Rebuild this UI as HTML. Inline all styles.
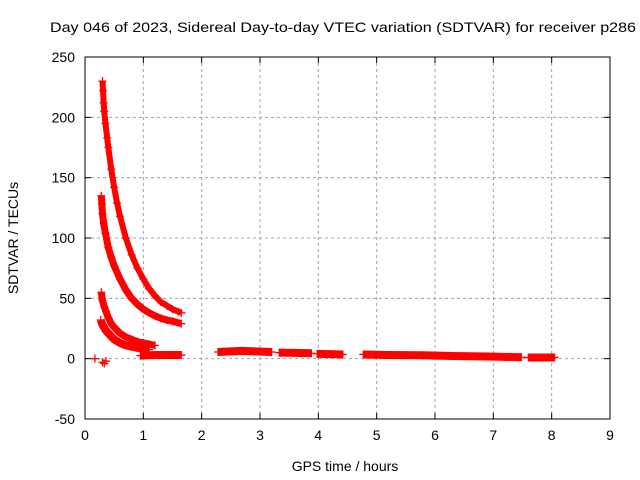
<!DOCTYPE html>
<html><head><meta charset="utf-8"><style>
body{margin:0;background:#fff}
svg{display:block;font-family:"Liberation Sans",sans-serif}
</style></head><body>
<svg id="chart" width="640" height="480" viewBox="0 0 640 480">
<rect width="640" height="480" fill="#fff"/>
<text x="50" y="32" font-size="14" textLength="586" lengthAdjust="spacingAndGlyphs">Day 046 of 2023, Sidereal Day-to-day VTEC variation (SDTVAR) for receiver p286</text>
<g id="grid"></g>
<g id="axes"></g>
<g id="series"></g>
<text x="345" y="471" font-size="14" text-anchor="middle">GPS time / hours</text>
<text transform="translate(18,238) rotate(-90)" font-size="14" text-anchor="middle">SDTVAR / TECUs</text>
</svg>
<script>
const xTicks=[0,1,2,3,4,5,6,7,8,9];
const yTicks=[-50,0,50,100,150,200,250];
const curveAx=[0.3,0.31,0.32,0.33,0.35,0.38,0.4,0.45,0.5,0.55,0.6,0.7,0.8,0.9,1.0,1.1,1.2,1.3,1.4,1.5,1.6,1.65];
const curveAy=[230,222,212,205,195,183,175,157,142,129,118,100,86,75,66,58,52,47,44,41,39,38];
const curveBx=[0.28,0.29,0.3,0.32,0.35,0.4,0.45,0.5,0.6,0.7,0.8,0.9,1.0,1.1,1.2,1.3,1.4,1.5,1.65];
const curveBy=[135,128,120,112,104,92,84,77,66,57,50,45,41,38,35.5,33.5,32,31,29];
const curveCx=[0.28,0.3,0.33,0.36,0.4,0.45,0.5,0.6,0.7,0.8,0.9,1.0,1.1,1.2];
const curveCy=[55,48,43,39,34,29,26,21,18,16,14,13,12,11];
const curveDx=[0.27,0.3,0.35,0.4,0.5,0.6,0.7,0.8,0.9,1.0,1.1];
const curveDy=[32,28,24,21,16,13,11,10,9,8,7.5];
const flatX=[[0.95,1.2,1.45,1.65],[2.28,2.5,2.7,2.9,3.2],[3.33,3.6,3.88],[3.98,4.2,4.42],[4.77,5.2,5.8,6.3,6.9,7.48],[7.6,7.8,8.05]];
const flatY=[[2.5,3,3,3],[5.5,6,6.5,6,5.5],[5,4.8,4.5],[4,3.8,3.5],[3.5,3,2.8,2.2,1.8,1.2],[1,1,1]];
const loneX=[0.17,0.3,0.33,0.36];
const loneY=[0,-3,-4,-2];

const L=85,R=610,T=57,B=419;
const sx=v=>L+(v-0)/9*(R-L);
const sy=v=>B-(v+50)/300*(B-T);
const NS='http://www.w3.org/2000/svg';
function mk(tag,attrs,parent){const e=document.createElementNS(NS,tag);for(const k in attrs)e.setAttribute(k,attrs[k]);parent.appendChild(e);return e;}
const grid=document.getElementById('grid'),axes=document.getElementById('axes'),ser=document.getElementById('series');
xTicks.forEach(t=>{
  const x=sx(t);
  if(t>0&&t<9){const g=mk('line',{x1:x,x2:x,y1:T,y2:B,stroke:'#a0a0a0','stroke-dasharray':'3,3'},grid);
  
  }
  mk('line',{x1:x,x2:x,y1:B,y2:B-6,stroke:'#000'},axes);
  mk('line',{x1:x,x2:x,y1:T,y2:T+6,stroke:'#000'},axes);
  const lb=mk('text',{x:x,y:B+21,'font-size':14,'text-anchor':'middle'},axes);lb.textContent=t;
  
  
});
yTicks.forEach(t=>{
  const y=sy(t);
  if(t>-50&&t<250){const g=mk('line',{x1:L,x2:R,y1:y,y2:y,stroke:'#a0a0a0','stroke-dasharray':'3,3'},grid);
  
  }
  mk('line',{x1:L,x2:L+6,y1:y,y2:y,stroke:'#000'},axes);
  mk('line',{x1:R,x2:R-6,y1:y,y2:y,stroke:'#000'},axes);
  const lb=mk('text',{x:L-10,y:y+5,'font-size':14,'text-anchor':'end'},axes);lb.textContent=t;
  
  
});
mk('rect',{x:L,y:T,width:R-L,height:B-T,fill:'none',stroke:'#000'},axes);

function plus(x,y){
  const p=mk('path',{d:`M${x-4},${y}h8M${x},${y-4}v8`,stroke:'#f00','stroke-width':1.3,fill:'none'},ser);
  
  
}
function curve(xs,ys,w){
  const pts=xs.map((v,i)=>sx(v)+','+sy(ys[i])).join(' ');
  const l=mk('polyline',{points:pts,fill:'none',stroke:'#f00','stroke-width':w,'stroke-linejoin':'round'},ser);
  
  
  xs.forEach((v,i)=>plus(sx(v),sy(ys[i])));
}
curve(curveAx,curveAy,6);
curve(curveBx,curveBy,7);
curve(curveCx,curveCy,7);
curve(curveDx,curveDy,8);
flatX.forEach((xs,i)=>curve(xs,flatY[i],8));
loneX.forEach((v,i)=>plus(sx(v),sy(loneY[i])));
</script>
</body></html>
